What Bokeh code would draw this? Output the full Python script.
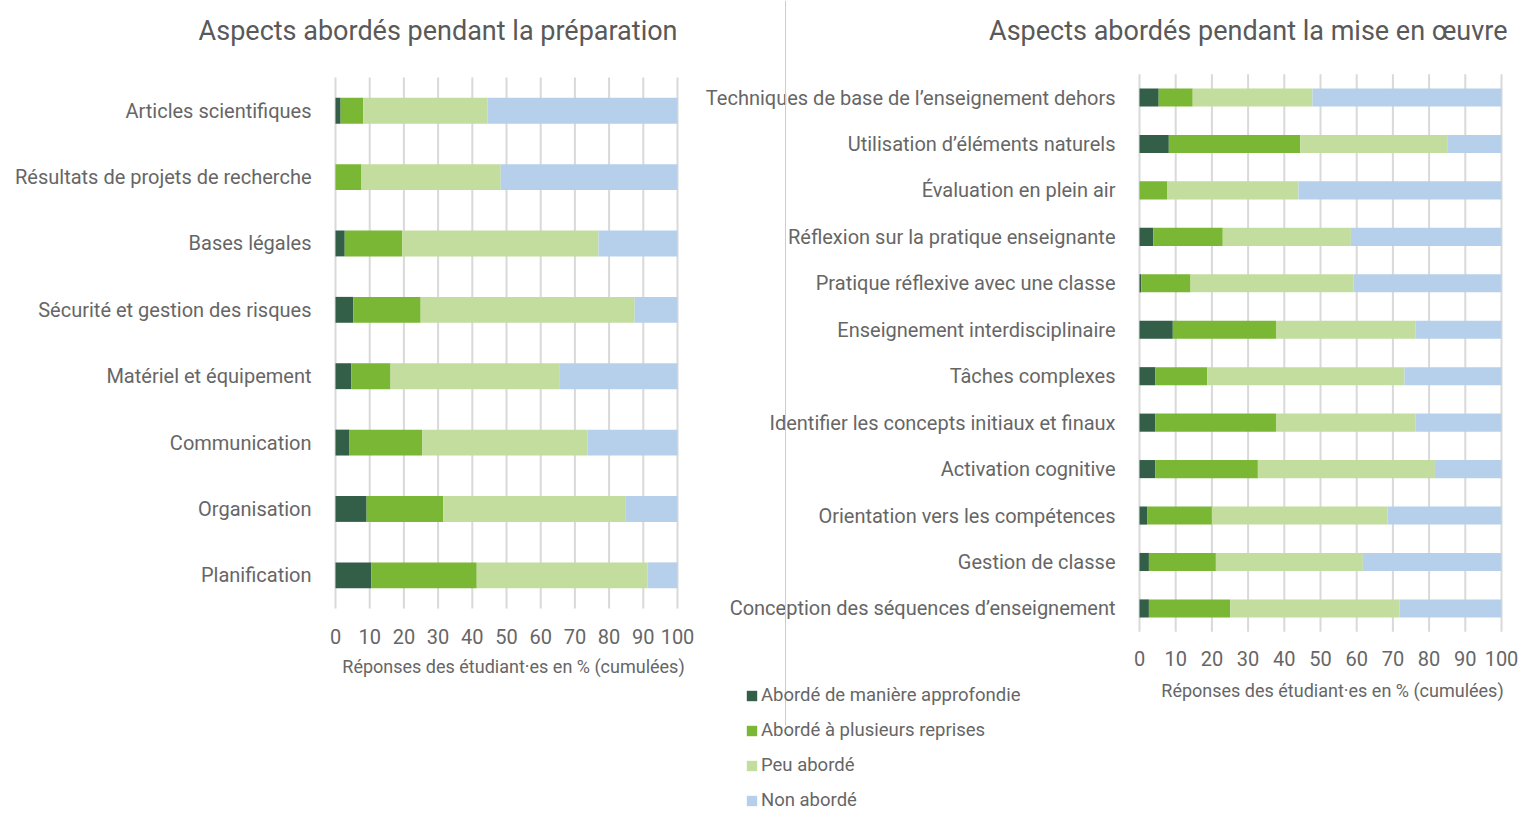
from bokeh.plotting import figure
from bokeh.models import ColumnDataSource, Range1d, Legend, LegendItem
from bokeh.core.properties import value
from bokeh.layouts import row
from bokeh.embed import file_html
from bokeh.resources import INLINE

FONT = "Roboto"
TEXT = "#666666"
TITLE_COLOR = "#595959"
GRID = "#d9d9d9"

series_keys = ["approfondi", "plusieurs", "peu", "non"]
series_labels = ["Abordé de manière approfondie", "Abordé à plusieurs reprises",
                 "Peu abordé", "Non abordé"]
colors = ["#335e47", "#7ab734", "#c2dd9e", "#b6d0ec"]
x_ticks = [0, 10, 20, 30, 40, 50, 60, 70, 80, 90, 100]
x_tick_labels = [str(t) for t in x_ticks]
X_LABEL = "Réponses des étudiant·es en % (cumulées)"

# Left chart: preparation
prep_title = "Aspects abordés pendant la préparation"
prep_categories = ["Articles scientifiques", "Résultats de projets de recherche",
                   "Bases légales", "Sécurité et gestion des risques",
                   "Matériel et équipement", "Communication", "Organisation",
                   "Planification"]
prep_approfondi = [1.5, 0.0, 2.7, 5.2, 4.6, 4.1, 9.1, 10.5]
prep_plusieurs = [6.6, 7.6, 16.8, 19.7, 11.5, 21.3, 22.4, 30.8]
prep_peu = [36.3, 40.7, 57.4, 62.6, 49.5, 48.3, 53.4, 49.9]
prep_non = [55.6, 51.7, 23.1, 12.5, 34.4, 26.3, 15.1, 8.8]

# Right chart: implementation
impl_title = "Aspects abordés pendant la mise en œuvre"
impl_categories = ["Techniques de base de l’enseignement dehors",
                   "Utilisation d’éléments naturels", "Évaluation en plein air",
                   "Réflexion sur la pratique enseignante",
                   "Pratique réflexive avec une classe",
                   "Enseignement interdisciplinaire", "Tâches complexes",
                   "Identifier les concepts initiaux et finaux",
                   "Activation cognitive", "Orientation vers les compétences",
                   "Gestion de classe", "Conception des séquences d’enseignement"]
impl_approfondi = [5.3, 8.1, 0.0, 3.8, 0.5, 9.2, 4.4, 4.4, 4.4, 2.1, 2.6, 2.6]
impl_plusieurs = [9.4, 36.3, 7.6, 19.2, 13.6, 28.5, 14.3, 33.3, 28.3, 17.9, 18.5, 22.5]
impl_peu = [33.1, 40.6, 36.3, 35.4, 45.0, 38.6, 54.5, 38.6, 48.9, 48.5, 40.6, 46.7]
impl_non = [52.2, 15.0, 56.1, 41.6, 40.9, 23.7, 26.8, 23.7, 18.4, 31.5, 38.3, 28.2]


def build(title, cats, vals, W, H, zero_px, scale, first_px, step,
          tick_dy, xlabel_dy, xlabel_dx, title_dx, title_py=30):
    """The whole figure is the plot frame; every text is drawn on its scales."""
    x0 = -zero_px / scale
    y0 = -first_px / step
    p = figure(width=W, height=H,
               x_range=Range1d(x0, x0 + W / scale),
               y_range=Range1d(y0 + H / step, y0),
               output_backend="svg", toolbar_location=None,
               min_border_left=0, min_border_right=0,
               min_border_top=0, min_border_bottom=0)
    p.axis.visible = False
    p.grid.visible = False
    p.outline_line_color = None

    n = len(cats)
    idx = list(range(n))
    data = dict(idx=idx, cat=cats)
    for k, v in zip(series_keys, vals):
        data[k] = v
    src = ColumnDataSource(data)

    # vertical grid lines at the ticks
    p.segment(x0=x_ticks, x1=x_ticks, y0=[-0.5] * len(x_ticks),
              y1=[n - 0.5] * len(x_ticks), line_color=GRID, line_width=2)
    rr = p.hbar_stack(series_keys, y="idx", height=0.39, color=colors,
                      line_color=None, source=src)
    # category labels
    p.text(x=[0] * n, y=idx, text=cats, x_offset=-24,
           text_align="right", text_baseline="middle",
           text_font=value(FONT), text_font_size=value("20px"), text_color=TEXT)
    # tick labels
    p.text(x=x_ticks, y=[n - 0.5] * len(x_ticks), text=x_tick_labels,
           y_offset=tick_dy, text_align="center", text_baseline="middle",
           text_font=value(FONT), text_font_size=value("20px"), text_color=TEXT)
    # axis label
    p.text(x=[50], y=[n - 0.5], text=[X_LABEL], x_offset=xlabel_dx, y_offset=xlabel_dy,
           text_align="center", text_baseline="middle",
           text_font=value(FONT), text_font_size=value("18px"), text_color=TEXT)
    # title
    p.text(x=[100], y=[y0 + title_py / step], text=[title], x_offset=title_dx,
           text_align="right", text_baseline="middle",
           text_font=value(FONT), text_font_size=value("27px"), text_color=TITLE_COLOR)
    return p, rr, (lambda px: x0 + px / scale), (lambda py: y0 + py / step)


left, _, _, _ = build(prep_title, prep_categories,
                      [prep_approfondi, prep_plusieurs, prep_peu, prep_non],
                      W=700, H=814, zero_px=335, scale=3.42, first_px=110.2, step=66.375,
                      tick_dy=28, xlabel_dy=58, xlabel_dx=7, title_dx=0)

right, rr, sx, sy = build(impl_title, impl_categories,
                          [impl_approfondi, impl_plusieurs, impl_peu, impl_non],
                          W=818, H=814, zero_px=439, scale=3.62, first_px=97, step=46.45,
                          tick_dy=27, xlabel_dy=59, xlabel_dx=12, title_dx=6)

# thin separator between the two charts
right.segment(x0=[sx(85)], x1=[sx(85)], y0=[sy(0)], y1=[sy(725)],
              line_color="#cccccc", line_width=1)

legend = Legend(items=[LegendItem(label=lab, renderers=[r])
                       for lab, r in zip(series_labels, rr)],
                location=(45, 3), orientation="vertical",
                label_text_font=FONT, label_text_font_size="18.5px",
                label_text_color=TEXT, glyph_width=13, glyph_height=13,
                label_height=21, label_standoff=3, spacing=13, padding=0, margin=0,
                border_line_color=None, background_fill_alpha=0)
right.add_layout(legend, "center")

layout = row(left, right)
open("out.html", "w").write(file_html(layout, INLINE))
